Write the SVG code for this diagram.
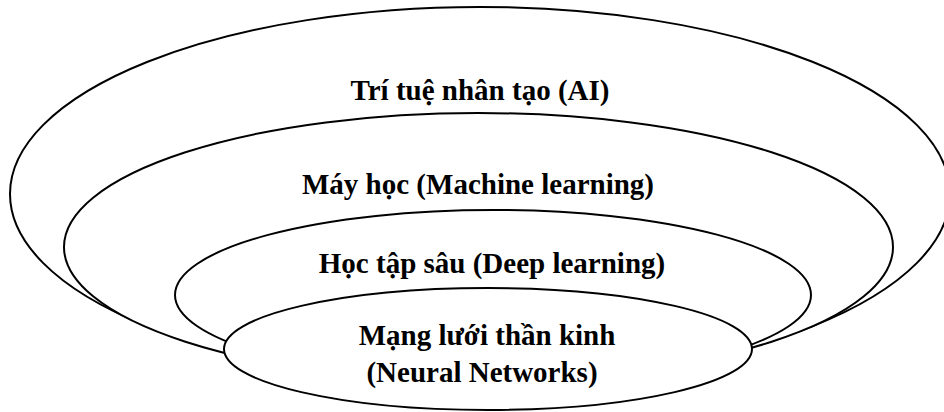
<svg xmlns="http://www.w3.org/2000/svg" width="944" height="412" viewBox="0 0 944 412">
  <style>
    .layer { fill: #ffffff; stroke: #000000; stroke-width: 2; }
    .label { font-family: "Liberation Serif", "Times New Roman", serif; font-weight: bold; font-size: 29px; fill: #000000; text-anchor: middle; }
  </style>
  <rect x="0" y="0" width="944" height="412" fill="#ffffff"/>

  <!-- Nested layers, drawn outermost first so each inner one covers the lower arc of the previous -->
  <g id="ai">
    <ellipse class="layer" cx="480" cy="194" rx="470" ry="187"/>
    <text class="label" x="480" y="100">Trí tuệ nhân tạo (AI)</text>
  </g>

  <g id="machine-learning">
    <ellipse class="layer" cx="478.5" cy="247" rx="414.5" ry="134"/>
    <text class="label" x="478" y="194">Máy học (Machine learning)</text>
  </g>

  <g id="deep-learning">
    <ellipse class="layer" cx="493" cy="295" rx="318" ry="85"/>
    <text class="label" x="492" y="273">Học tập sâu (Deep learning)</text>
  </g>

  <g id="neural-networks">
    <ellipse class="layer" cx="488" cy="349" rx="264" ry="61"/>
    <text class="label" x="487" y="345">Mạng lưới thần kinh</text>
    <text class="label" x="482" y="382">(Neural Networks)</text>
  </g>
</svg>
